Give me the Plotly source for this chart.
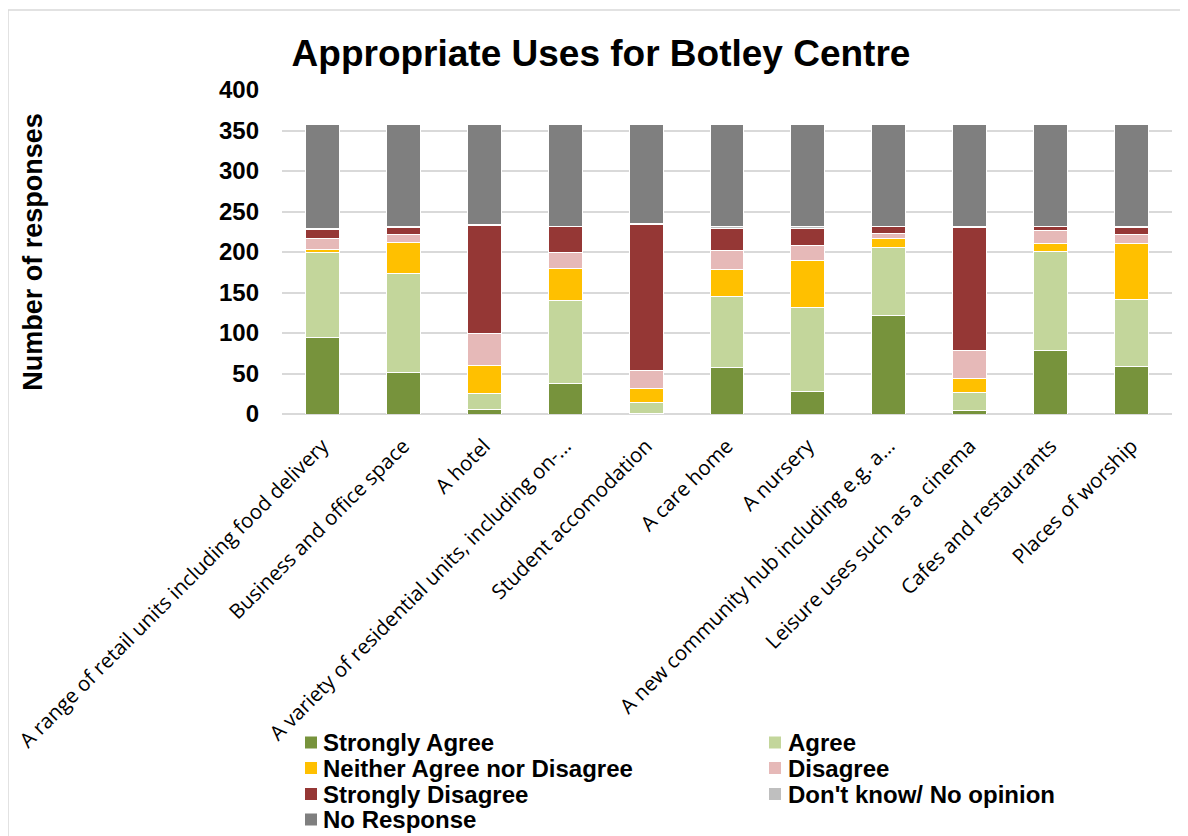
import plotly.graph_objects as go

categories = [
    "A range of retail units including food delivery",
    "Business and office space",
    "A hotel",
    "A variety of residential units, including on-...",
    "Student accomodation",
    "A care home",
    "A nursery",
    "A new community hub including e.g. a...",
    "Leisure uses such as a cinema",
    "Cafes and restaurants",
    "Places of worship",
]

strongly_agree = [94, 51, 6, 38, 1, 58, 28, 122, 4, 78, 59]
agree = [105, 122, 19, 102, 13, 87, 104, 84, 22, 123, 82]
neither = [4, 39, 35, 40, 18, 34, 57, 11, 18, 10, 70]
disagree = [14, 9, 39, 19, 22, 23, 19, 6, 34, 15, 10]
strongly_disagree = [11, 9, 134, 32, 180, 27, 21, 8, 152, 5, 9]
dont_know = [1, 1, 1, 1, 1, 2, 2, 1, 2, 1, 1]
no_response = [128, 126, 123, 125, 122, 126, 126, 125, 125, 125, 126]

series_names = [
    "Strongly Agree", "Agree", "Neither Agree nor Disagree", "Disagree",
    "Strongly Disagree", "Don't know/ No opinion", "No Response",
]
series_values = [strongly_agree, agree, neither, disagree,
                 strongly_disagree, dont_know, no_response]
series_colors = ["#77933C", "#C3D69B", "#FFC000", "#E6B9B8",
                 "#953735", "#BFBFBF", "#7F7F7F"]

y_ticks = [0, 50, 100, 150, 200, 250, 300, 350, 400]

BOLD = "Liberation Sans, Arial"

# page offset of the figure (body margin)
OFF = 8
W, H = 1180, 828
L, R, T, B = 274, 16, 82, 422
plot_w = W - L - R
plot_h = H - T - B


def px_x(page_x):
    return (page_x - OFF - L) / plot_w


def px_y(page_y):
    return (T + plot_h - (page_y - OFF)) / plot_h


fig = go.Figure()
for name, vals, color in zip(series_names, series_values, series_colors):
    fig.add_trace(go.Bar(
        x=categories, y=vals, name=name, showlegend=False,
        marker=dict(color=color, line=dict(color="white", width=1)),
    ))

fig.update_layout(
    width=W, height=H,
    barmode="stack",
    bargap=0.58,
    plot_bgcolor="white",
    paper_bgcolor="white",
    margin=dict(l=L, r=R, t=T, b=B, autoexpand=False),
    title=dict(
        text="Appropriate Uses for Botley Centre",
        x=(601 - OFF) / W, xanchor="center",
        y=1 - (53 - OFF) / H, yanchor="middle",
        font=dict(family=BOLD, size=37, color="black", weight="bold"),
    ),
    xaxis=dict(
        tickangle=-45,
        tickfont=dict(family="Open Sans", size=20.5, color="black"),
        showgrid=False,
        showline=False,
        ticks="",
        ticklabelstandoff=15,
        automargin=False,
    ),
    yaxis=dict(
        range=[0, 400],
        tickvals=y_ticks,
        tickfont=dict(family=BOLD, size=24, color="black", weight="bold"),
        showgrid=True,
        gridcolor="#D9D9D9",
        gridwidth=1.5,
        zeroline=True,
        zerolinecolor="#D9D9D9",
        zerolinewidth=1.5,
        ticks="",
        ticklabelstandoff=22,
        automargin=False,
        title=dict(
            text="Number of responses",
            font=dict(family=BOLD, size=27, color="black", weight="bold"),
            standoff=168,
        ),
    ),
    showlegend=False,
)

# legend drawn as two columns (row-wise order as in the reference)
col_square_x = [311, 775]
col_text_x = [321, 786]
row_y = [742.5, 768, 794, 819.5]
for i, (name, color) in enumerate(zip(series_names, series_colors)):
    col, row = i % 2, i // 2
    cx, cy = col_square_x[col], row_y[row]
    fig.add_shape(
        type="rect", xref="paper", yref="paper",
        x0=px_x(cx - 6), x1=px_x(cx + 6),
        y0=px_y(cy + 6), y1=px_y(cy - 6),
        fillcolor=color, line=dict(width=0),
    )
    fig.add_annotation(
        xref="paper", yref="paper",
        x=px_x(col_text_x[col]), y=px_y(cy),
        xanchor="left", yanchor="middle",
        text=name, showarrow=False,
        font=dict(family=BOLD, size=24, color="black", weight="bold"),
    )

# outer chart border
fig.add_shape(
    type="rect", xref="paper", yref="paper",
    x0=px_x(8), x1=1.2,
    y0=-2, y1=px_y(10),
    line=dict(color="#D9D9D9", width=1.5),
    fillcolor="rgba(0,0,0,0)",
    layer="below",
)

fig.write_html("out.html")
